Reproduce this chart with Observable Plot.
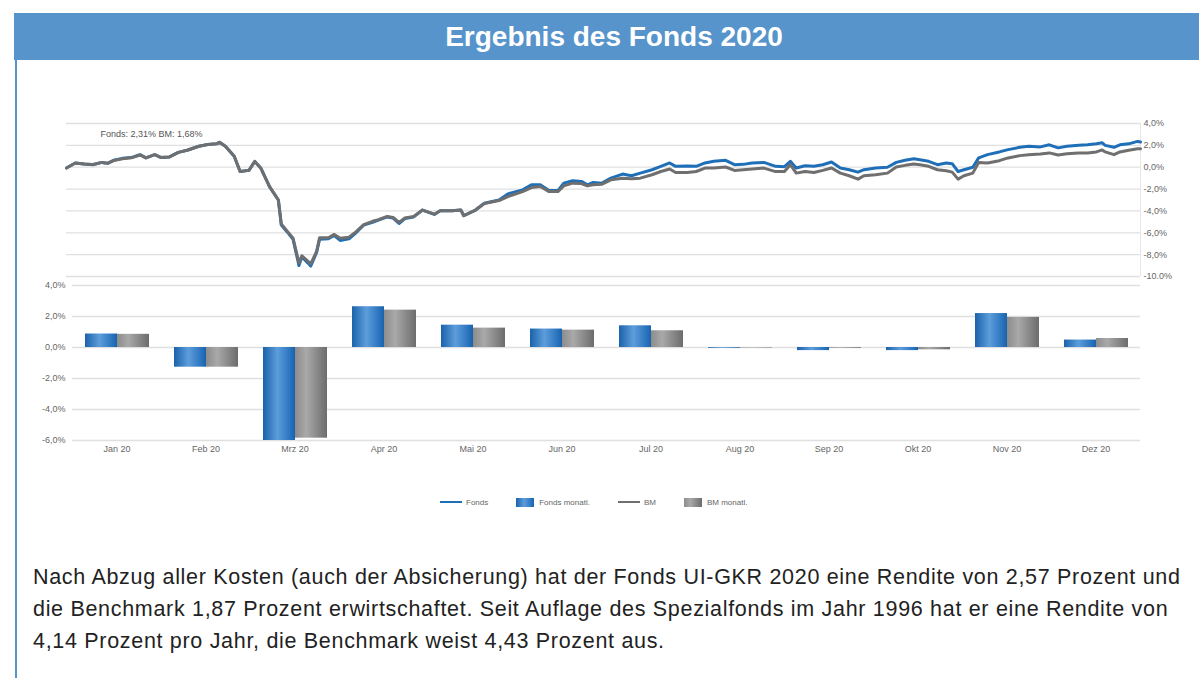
<!DOCTYPE html>
<html><head><meta charset="utf-8">
<script src="https://cdn.jsdelivr.net/npm/d3@7"></script>
<script src="https://cdn.jsdelivr.net/npm/@observablehq/plot@0.6"></script>
<style>
body{margin:0;width:1199px;height:678px;overflow:hidden;background:#fff;font-family:"Liberation Sans",Arial,sans-serif;position:relative}
#header{position:absolute;left:14px;top:13px;width:1185px;height:47px;background:#5794cb}
#title{position:absolute;left:0;top:13px;width:1228px;height:47px;line-height:47px;text-align:center;color:#fff;font-weight:bold;font-size:28px;white-space:nowrap}
#vline{position:absolute;left:15px;top:60px;width:2px;height:618px;background:#5794cb}
#top{position:absolute;left:0;top:100px}
#bars{position:absolute;left:0;top:270px}
#legend{position:absolute;left:440px;top:496px;height:12px;display:flex;align-items:center;font-size:8px;color:#666;white-space:nowrap}
#legend .ln{display:inline-block;width:22px;height:2px;margin-right:4px}
#legend .bx{display:inline-block;width:18px;height:9px;margin-right:5px}
#legend .it{display:flex;align-items:center;margin-right:28px}
#para{position:absolute;left:33px;top:561px;font-size:21.5px;line-height:32px;color:#222;white-space:nowrap}
</style></head>
<body>
<div id="header"></div>
<div id="title">Ergebnis des Fonds 2020</div>
<div id="vline"></div>
<div id="top"></div>
<div id="bars"></div>
<div id="legend"></div>
<div id="para"></div>
<script>
// ---------- data ----------
const lineDays = [0,3,6,9,12,14,16,19,22,25,27,30,32,35,38,41,45,48,51,52,54,57,59,62,64,66,69,72,73,75,77,79,80,82,83,85,86,89,91,93,96,98,101,104,106,109,111,113,115,118,121,125,127,131,134,135,139,142,147,150,155,158,161,164,167,169,172,175,177,179,182,185,189,192,195,199,202,205,207,211,214,217,220,224,227,230,233,237,241,244,246,248,251,254,257,260,263,266,269,271,275,279,282,285,288,290,293,296,299,301,303,305,308,310,313,317,320,324,327,331,334,337,340,344,347,350,352,353,356,358,361,364,365];
const fondsLine = [-0.07,0.39,0.29,0.23,0.44,0.35,0.63,0.81,0.88,1.15,0.85,1.15,0.90,0.94,1.36,1.55,1.92,2.07,2.14,2.29,1.92,1.0,-0.39,-0.29,0.53,-0.07,-1.77,-3.0,-5.3,-5.92,-6.6,-9.0,-8.2,-8.75,-9.05,-7.8,-6.6,-6.55,-6.25,-6.7,-6.55,-6.1,-5.3,-5.05,-4.85,-4.55,-4.65,-5.15,-4.7,-4.55,-3.92,-4.32,-3.98,-3.98,-3.92,-4.44,-3.92,-3.3,-3.0,-2.44,-2.07,-1.61,-1.61,-2.14,-2.14,-1.46,-1.24,-1.3,-1.61,-1.4,-1.46,-1.0,-0.63,-0.78,-0.54,-0.23,0.08,0.39,0.08,0.11,0.08,0.39,0.54,0.63,0.23,0.26,0.39,0.44,0.08,0.05,0.54,-0.07,0.14,0.08,0.23,0.48,-0.07,-0.23,-0.45,-0.23,-0.07,0.0,0.44,0.63,0.78,0.69,0.54,0.23,0.39,0.32,-0.39,-0.23,0.0,0.85,1.15,1.4,1.61,1.82,1.92,1.86,2.05,1.77,1.92,2.0,2.05,2.14,2.23,2.0,1.82,2.05,2.14,2.36,2.31];
const bmLine = [-0.07,0.39,0.29,0.25,0.44,0.37,0.6,0.78,0.86,1.12,0.85,1.15,0.9,0.94,1.36,1.55,1.92,2.07,2.14,2.29,1.92,1.0,-0.39,-0.29,0.53,-0.07,-1.77,-3.0,-5.2,-5.85,-6.5,-8.75,-8.1,-8.6,-8.85,-7.7,-6.45,-6.45,-6.15,-6.5,-6.4,-6.0,-5.25,-4.95,-4.8,-4.5,-4.6,-5.05,-4.65,-4.5,-3.92,-4.3,-3.98,-3.98,-3.92,-4.42,-3.92,-3.32,-3.05,-2.69,-2.23,-1.86,-1.77,-2.23,-2.23,-1.71,-1.46,-1.5,-1.71,-1.6,-1.55,-1.15,-1.0,-1.06,-1.0,-0.69,-0.39,-0.17,-0.48,-0.48,-0.39,-0.08,-0.08,0.02,-0.29,-0.23,-0.17,-0.08,-0.4,-0.39,0.23,-0.54,-0.39,-0.48,-0.29,-0.07,-0.54,-0.78,-1.09,-0.78,-0.69,-0.54,0.02,0.17,0.29,0.23,0.08,-0.23,-0.32,-0.45,-1.09,-0.78,-0.54,0.44,0.39,0.6,0.85,1.06,1.15,1.21,1.31,1.12,1.24,1.31,1.31,1.4,1.58,1.4,1.15,1.4,1.55,1.68,1.68];
const annotation = "Fonds: 2,31% BM: 1,68%";
const topTicks = [-10,-8,-6,-4,-2,0,2,4];
const topTickLabels = ["-10.0%","-8,0%","-6,0%","-4,0%","-2,0%","0,0%","2,0%","4,0%"];

const months = ["Jan 20","Feb 20","Mrz 20","Apr 20","Mai 20","Jun 20","Jul 20","Aug 20","Sep 20","Okt 20","Nov 20","Dez 20"];
const fondsMonthly = [0.87,-1.27,-6.0,2.63,1.44,1.19,1.40,-0.05,-0.2,-0.2,2.19,0.48];
const bmMonthly    = [0.85,-1.27,-5.85,2.41,1.25,1.12,1.08,-0.03,-0.05,-0.15,1.94,0.58];
const barTicks = [-6,-4,-2,0,2,4];
const barTickLabels = ["-6,0%","-4,0%","-2,0%","0,0%","2,0%","4,0%"];
const seriesNames = ["Fonds","BM"];
const legendLabels = ["Fonds","Fonds monatl.","BM","BM monatl."];
const paragraphLines = [
  "Nach Abzug aller Kosten (auch der Absicherung) hat der Fonds UI-GKR 2020 eine Rendite von 2,57 Prozent und",
  "die Benchmark 1,87 Prozent erwirtschaftet. Seit Auflage des Spezialfonds im Jahr 1996 hat er eine Rendite von",
  "4,14 Prozent pro Jahr, die Benchmark weist 4,43 Prozent aus."
];

// ---------- colours ----------
const blueLine = "#1f6fb8", grayLine = "#6f6f6f", gridCol = "#e0e0e0";

// ---------- top line chart ----------
const toDate = d => new Date(Date.UTC(2020,0,1+d));
const lineData = lineDays.map((d,i)=>({date:toDate(d), fonds:fondsLine[i], bm:bmLine[i]}));
const topChart = Plot.plot({
  width:1199, height:190, marginLeft:66, marginRight:59, marginTop:23, marginBottom:14,
  style:{fontFamily:"'Liberation Sans',Arial,sans-serif", fontSize:"9px", color:"#666", background:"transparent"},
  x:{type:"utc", domain:[toDate(0), toDate(365)], axis:null},
  y:{domain:[-10,4], axis:"right", ticks:topTicks, tickFormat:d=>topTickLabels[topTicks.indexOf(d)], tickSize:0, tickPadding:3, label:null},
  marks:[
    Plot.ruleY(topTicks,{stroke:gridCol, strokeWidth:1.3}),
    Plot.ruleX([toDate(365)],{stroke:"#e6e6e6"}),
    Plot.line(lineData,{x:"date", y:"fonds", stroke:blueLine, strokeWidth:3, curve:"linear"}),
    Plot.line(lineData,{x:"date", y:"bm", stroke:grayLine, strokeWidth:3, curve:"linear"}),
    Plot.text([annotation],{frameAnchor:"top-left", text:d=>d, dx:34, dy:11, textAnchor:"start", lineAnchor:"middle", fill:"#555", fontSize:9})
  ]
});
document.getElementById("top").appendChild(topChart);

// ---------- bar chart ----------
const barData = [];
months.forEach((m,i)=>{
  barData.push({month:m, series:"Fonds", value:fondsMonthly[i]});
  barData.push({month:m, series:"BM", value:bmMonthly[i]});
});
const barChart = Plot.plot({
  width:1199, height:200, marginLeft:70, marginRight:57, marginTop:15, marginBottom:30,
  style:{fontFamily:"'Liberation Sans',Arial,sans-serif", fontSize:"9px", color:"#666", background:"transparent"},
  fx:{domain:months, padding:0, axis:"bottom", tickSize:0, tickPadding:5, label:null},
  x:{domain:seriesNames, axis:null, paddingInner:0, paddingOuter:0.35},
  y:{domain:[-6,4], ticks:barTicks, tickFormat:d=>barTickLabels[barTicks.indexOf(d)], tickSize:0, tickPadding:7, label:null},
  color:{domain:seriesNames, range:["url(#gradFonds)","url(#gradBM)"]},
  marks:[
    Plot.ruleY(barTicks,{stroke:gridCol, strokeWidth:1.3}),
    Plot.barY(barData,{fx:"month", x:"series", y:"value", fill:"series", insetLeft:0, insetRight:0})
  ]
});
// gradients
const NS = "http://www.w3.org/2000/svg";
const defs = document.createElementNS(NS,"defs");
function addGrad(id, stops){
  const g = document.createElementNS(NS,"linearGradient");
  g.setAttribute("id",id); g.setAttribute("x1","0"); g.setAttribute("x2","1"); g.setAttribute("y1","0"); g.setAttribute("y2","0");
  stops.forEach(([o,c])=>{const s=document.createElementNS(NS,"stop"); s.setAttribute("offset",o); s.setAttribute("stop-color",c); g.appendChild(s);});
  defs.appendChild(g);
}
addGrad("gradFonds",[["0","#1a62ab"],["0.45","#5d9ddb"],["0.85","#2a74bf"],["1","#1a62ab"]]);
addGrad("gradBM",[["0","#8c8c8c"],["0.35","#a9a9a9"],["1","#6c6c6c"]]);
barChart.insertBefore(defs, barChart.firstChild);
document.getElementById("bars").appendChild(barChart);

// ---------- legend ----------
const leg = document.getElementById("legend");
const legendSwatches = [
  `<span class="ln" style="background:${blueLine}"></span>`,
  `<span class="bx" style="background:linear-gradient(90deg,#1a62ab,#5d9ddb 45%,#2a74bf 85%,#1a62ab)"></span>`,
  `<span class="ln" style="background:${grayLine}"></span>`,
  `<span class="bx" style="background:linear-gradient(90deg,#8c8c8c,#a9a9a9 35%,#6c6c6c)"></span>`
];
legendLabels.forEach((l,i)=>{
  const it = document.createElement("span"); it.className="it";
  it.innerHTML = legendSwatches[i] + `<span>${l}</span>`;
  leg.appendChild(it);
});

// ---------- paragraph ----------
const para = document.getElementById("para");
para.innerHTML = paragraphLines.map(l=>`<div>${l}</div>`).join("");
// fit letter spacing so first line spans the reference width
const cv = document.createElement("canvas").getContext("2d");
cv.font = "21.5px 'Liberation Sans'";
const w1 = cv.measureText(paragraphLines[0]).width;
const ls = (1150 - w1) / paragraphLines[0].length;
para.style.letterSpacing = ls.toFixed(3) + "px";
</script>
</body></html>
